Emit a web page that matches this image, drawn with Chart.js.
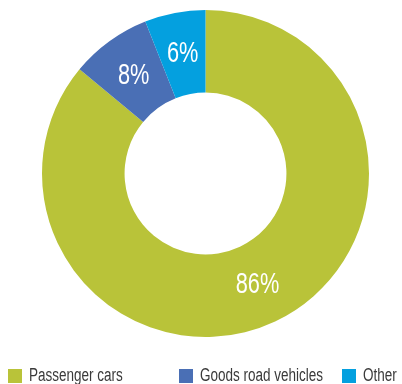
<!DOCTYPE html>
<html lang="en">
  <head>
    <meta charset="UTF-8" />
    <title>Vehicle share</title>
    <style>
      body {
        margin: 0;
        background-color: #ffffff;
      }
      .chart-container {
        position: relative;
        width: 402px;
        height: 384px;
      }
    </style>
  </head>
  <body>
    <div class="chart-container">
      <canvas id="shareChart" width="402" height="384"></canvas>
    </div>

    <script src="https://cdn.jsdelivr.net/npm/chart.js"></script>
    <script>
      const categories = ["Passenger cars", "Goods road vehicles", "Other"];
      const shares = [86, 8, 6];
      const colors = ["#b9c339", "#4a6fb5", "#04a0df"];

      const fontFamily = "'Liberation Sans', Arial, sans-serif";
      const squeeze = 0.75; // condensed look of the original font
      // left edge of each legend box
      const legendX = [8, 179, 342];

      function narrowText(ctx, text, x, y) {
        ctx.save();
        ctx.translate(x, y);
        ctx.scale(squeeze, 1);
        ctx.fillText(text, 0, 0);
        ctx.restore();
      }

      // percentage labels in the middle of each slice
      const sliceLabels = {
        id: "sliceLabels",
        afterDatasetsDraw(chart) {
          const ctx = chart.ctx;
          const meta = chart.getDatasetMeta(0);
          ctx.save();
          ctx.fillStyle = "#ffffff";
          ctx.font = "29px " + fontFamily;
          ctx.textAlign = "center";
          ctx.textBaseline = "middle";
          meta.data.forEach((arc, i) => {
            const p = arc.getCenterPoint();
            narrowText(ctx, shares[i] + "%", p.x, p.y + 1);
          });
          ctx.restore();
        },
      };

      // bottom legend with the original uneven spacing
      const bottomLegend = {
        id: "bottomLegend",
        afterDraw(chart) {
          const ctx = chart.ctx;
          ctx.save();
          ctx.font = "18px " + fontFamily;
          ctx.textBaseline = "middle";
          categories.forEach((name, i) => {
            ctx.fillStyle = colors[i];
            ctx.fillRect(legendX[i], 369, 14, 14);
            ctx.fillStyle = "#3a3a3a";
            narrowText(ctx, name, legendX[i] + 21, 376);
          });
          ctx.restore();
        },
      };

      new Chart(document.getElementById("shareChart"), {
        type: "doughnut",
        data: {
          labels: categories,
          datasets: [
            {
              data: shares,
              backgroundColor: colors,
              borderWidth: 0,
            },
          ],
        },
        options: {
          responsive: false,
          animation: false,
          cutout: "49.5%",
          layout: {
            padding: { top: 10, bottom: 47, left: 42, right: 33 },
          },
          plugins: {
            legend: { display: false },
            tooltip: { enabled: false },
          },
        },
        plugins: [sliceLabels, bottomLegend],
      });
    </script>
  </body>
</html>
